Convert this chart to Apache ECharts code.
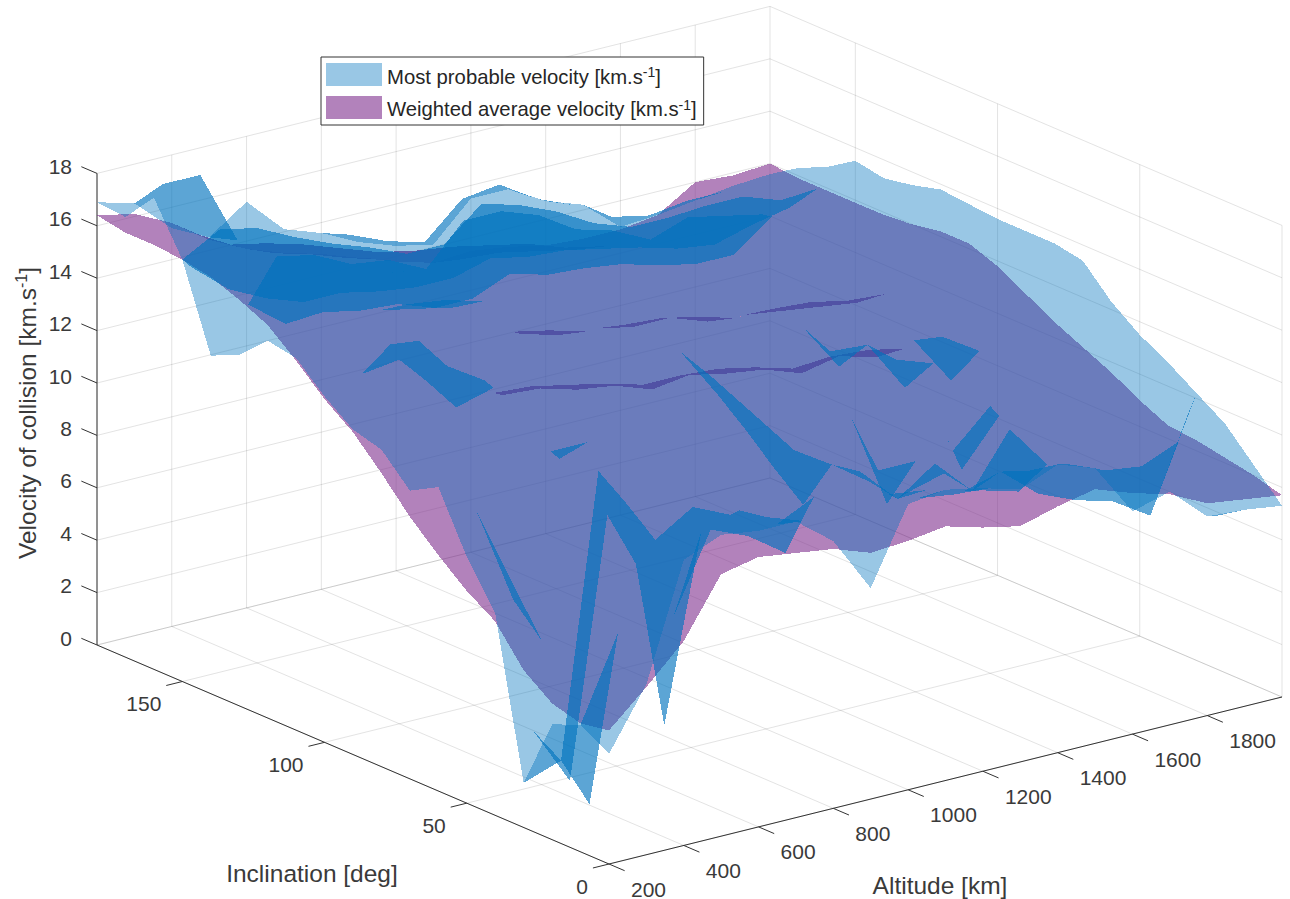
<!DOCTYPE html>
<html><head><meta charset="utf-8">
<style>html,body{margin:0;padding:0;background:#fff}#c{width:1290px;height:899px}
svg path[fill-opacity]{shape-rendering:crispEdges}</style>
<script src="https://cdn.jsdelivr.net/npm/echarts@6/dist/echarts.min.js"></script>
</head><body><div id="c"></div>
<script>
const altitudes=[200,300,400,500,600,700,800,900,1000,1100,1200,1300,1400,1500,1600,1700,1800,1900,2000];
const inclinations=[0,10,20,30,40,50,60,70,80,90,100,110,120,130,140,150,160,170,180];
const altitudeTicks=[200,400,600,800,1000,1200,1400,1600,1800];
const inclinationTicks=[0,50,100,150];
const velocityTicks=[0,2,4,6,8,10,12,14,16,18];
const weightedAverage=[
[5.1,6.4,7.8,10.0,10.3,10.1,9.9,9.4,9.5,9.7,9.3,9.0,9.4,9.7,9.2,8.8,8.1,7.9,7.7],
[4.9,6.2,7.5,9.6,9.9,9.7,9.6,9.1,9.3,9.5,9.1,8.9,9.3,9.6,9.2,8.8,8.3,8.1,8.0],
[5.2,6.4,7.6,9.6,9.9,9.7,9.5,9.1,9.3,9.5,9.1,8.9,9.3,9.6,9.2,8.9,8.4,8.3,8.2],
[6.0,7.1,8.2,10.0,10.2,10.0,9.8,9.4,9.5,9.7,9.4,9.1,9.4,9.7,9.3,9.0,8.6,8.5,8.4],
[7.4,8.3,9.3,10.9,11.0,10.7,10.5,10.0,10.1,10.2,9.8,9.5,9.7,9.8,9.4,9.2,8.8,8.6,8.5],
[8.1,9.0,9.8,11.2,11.3,11.1,10.8,10.4,10.4,10.5,10.1,9.8,10.0,10.1,9.7,9.5,9.3,9.1,9.0],
[9.0,9.8,10.5,11.8,11.8,11.6,11.3,10.9,10.9,11.0,10.6,10.3,10.5,10.6,10.2,10.0,9.8,9.7,9.6],
[10.0,10.7,11.3,12.4,12.4,12.1,11.8,11.4,11.4,11.4,11.1,10.8,10.9,10.9,10.5,10.4,10.3,10.2,10.1],
[11.2,11.8,12.2,13.2,13.1,12.8,12.5,12.1,12.1,12.0,11.7,11.3,11.4,11.3,11.0,10.8,10.8,10.7,10.6],
[12.3,12.8,13.1,13.9,12.3,12.2,11.8,11.6,11.1,11.3,11.0,10.8,10.3,10.6,10.2,11.3,11.4,11.3,11.2],
[13.1,13.5,13.7,14.4,14.2,13.9,13.6,13.2,13.1,13.0,12.7,12.3,12.3,12.2,11.9,11.8,12.0,11.8,11.8],
[14.1,14.4,14.5,15.0,14.8,14.4,13.0,12.6,12.5,12.2,12.2,11.7,11.6,11.4,11.2,11.0,12.4,12.2,12.2],
[15.0,15.2,15.2,15.4,15.2,14.7,14.4,14.0,13.8,13.6,13.3,12.9,12.7,12.5,12.1,12.1,12.4,12.2,12.2],
[15.5,15.6,15.4,15.5,15.2,14.7,14.3,13.9,13.7,13.5,13.1,12.7,12.5,12.2,11.9,11.8,12.2,12.0,12.0],
[15.9,15.9,15.6,15.6,15.2,14.7,14.2,13.8,13.6,13.4,13.0,12.6,12.3,12.0,11.6,11.6,12.1,11.9,11.9],
[16.1,16.0,15.6,15.4,15.0,14.5,14.1,13.7,13.5,13.2,12.8,12.4,12.1,11.8,11.5,11.5,12.1,11.9,11.9],
[16.2,16.0,15.5,15.2,14.8,14.3,13.8,13.5,13.3,13.0,12.7,12.2,11.9,11.5,11.2,11.3,12.0,11.9,11.9],
[16.2,16.0,15.4,14.6,14.0,13.6,13.1,12.7,12.3,12.0,11.9,11.6,11.3,11.1,11.0,11.2,12.0,11.8,11.9],
[16.4,16.1,15.4,14.4,13.7,13.2,12.8,12.3,11.8,11.4,11.5,11.3,11.0,10.9,10.9,11.1,12.0,11.9,12.0]
];
const mostProbable=[
[4.2,6.5,10.9,11.5,11.3,11.3,10.2,8.05,10.9,11.1,10.8,10.4,11.0,10.5,8.5,8.9,7.6,7.5,7.3],
[4.85,8.0,11.2,12.1,11.45,11.0,10.5,10.0,10.6,10.3,10.1,10.0,10.3,10.2,9.6,9.4,10.0,6.8,8.4],
[4.4,1.0,12.1,3.3,10.4,10.8,9.9,10.6,9.6,10.0,9.8,9.4,9.8,8.6,8.0,7.6,6.7,10.2,9.5],
[1.7,2.2,12.9,9.0,6.6,9.6,9.0,8.0,10.5,10.4,9.0,10.0,8.6,10.6,8.9,7.3,7.6,6.8,10.2],
[7.7,2.9,0.6,10.4,11.2,10.9,10.7,10.2,11.1,10.2,9.2,8.4,8.8,7.8,7.4,10.0,6.7,9.6,10.9],
[9.4,8.7,5.5,11.4,11.4,11.2,10.9,10.6,11.6,8.2,10.3,8.8,8.8,8.85,10.2,7.4,10.0,6.7,11.5],
[11.6,10.4,6.6,11.9,11.9,11.7,11.4,11.0,12.1,9.1,9.5,10.5,6.7,10.7,7.3,9.0,7.3,10.9,12.3],
[11.0,15.4,14.5,12.5,10.8,12.2,11.9,11.5,12.6,10.1,11.3,9.4,11.0,11.4,10.9,8.7,8.8,12.2,13.4],
[12.1,15.9,13.0,13.4,12.4,13.0,12.7,12.3,13.0,11.0,11.9,11.5,11.6,11.5,9.5,11.1,10.2,11.9,13.6],
[12.4,15.3,13.5,14.1,14.0,13.6,13.3,12.9,12.9,12.4,12.4,12.1,12.1,10.2,12.0,10.5,8.6,12.3,13.6],
[13.2,13.7,13.9,14.6,14.4,14.1,13.8,13.4,13.3,13.2,12.9,12.5,12.5,12.4,12.1,12.4,12.6,12.7,13.6],
[14.2,14.6,14.7,15.2,15.0,14.6,14.3,13.9,13.8,13.7,13.3,12.9,12.8,12.7,12.5,12.6,12.9,13.0,13.7],
[14.4,14.7,14.6,14.5,14.2,13.9,14.2,14.1,13.9,13.7,13.5,13.1,12.9,13.0,12.3,12.5,12.8,13.1,13.8],
[13.4,16.8,16.5,15.8,15.6,14.9,16.4,16.4,15.9,15.0,14.6,13.9,14.4,14.1,13.8,12.4,12.9,13.0,13.5],
[12.9,14.5,13.4,13.5,13.2,13.1,12.6,12.6,13.2,12.8,12.7,12.5,12.1,11.8,11.8,12.9,12.5,12.9,13.3],
[16.1,16.9,16.6,15.9,15.3,14.8,14.2,14.2,15.4,15.0,14.4,13.6,13.1,13.1,13.2,13.2,12.7,12.8,13.5],
[18.0,15.0,13.8,13.1,12.6,12.6,12.3,12.1,12.1,12.5,12.2,12.1,11.8,11.5,11.1,10.9,11.3,11.6,12.8],
[16.8,17.7,17.7,14.85,13.7,13.9,14.0,13.4,13.0,14.3,14.5,13.6,13.0,12.2,11.9,12.1,12.1,12.2,12.3],
[16.9,16.5,15.2,14.5,15.5,14.1,13.6,12.9,12.4,12.1,13.5,13.5,12.7,12.2,11.0,11.1,11.3,11.5,11.6]
];
const blueName='Most probable velocity [km.s-1]';
const purpleName='Weighted average velocity [km.s-1]';
const FONT='"Liberation Sans", Arial, sans-serif';
const INK='#3a3a3a';

// Orthographic view of the MATLAB-like box, expressed on a page-sized hidden plane.
const view={ox:609,oy:864,ax:673,ay:-167,ix:-512,iy:-219,zy:-26.2,altMin:200,altMax:2000,incMax:180};
function project(alt,inc,v){
  const a=(alt-view.altMin)/(view.altMax-view.altMin), i=inc/view.incMax;
  return [view.ox+view.ax*a+view.ix*i, view.oy+view.ay*a+view.iy*i+view.zy*v];
}
const segs=[];const GRID='rgba(38,38,38,0.13)',AXIS='#333333';
const A0=view.altMin,A1=view.altMax,I1=view.incMax,Z1=18;
altitudeTicks.forEach(t=>{segs.push([t,0,0,t,I1,0,GRID]);segs.push([t,I1,0,t,I1,Z1,GRID]);});
inclinationTicks.forEach(t=>{segs.push([A0,t,0,A1,t,0,GRID]);segs.push([A1,t,0,A1,t,Z1,GRID]);});
velocityTicks.forEach(t=>{segs.push([A0,I1,t,A1,I1,t,GRID]);segs.push([A1,I1,t,A1,0,t,GRID]);});
segs.push([A1,0,0,A1,I1,0,GRID],[A0,I1,0,A1,I1,0,GRID],[A1,I1,0,A1,I1,Z1,GRID]);
segs.push([A0,I1,0,A0,I1,Z1,AXIS],[A0,0,0,A0,I1,0,AXIS],[A0,0,0,A1,0,0,AXIS]);
altitudeTicks.forEach(t=>segs.push([t,0,0,t,-5.5,0,AXIS]));
inclinationTicks.forEach(t=>segs.push([A0,t,0,A0-43,t,0,AXIS]));
velocityTicks.forEach(t=>segs.push([A0,I1,t,A0,I1+5.5,t,AXIS]));

const labels=[];
altitudeTicks.forEach(t=>{const p=project(t,0,0);labels.push({p:[p[0]+22,p[1]+25],t:String(t),al:'left'});});
inclinationTicks.forEach(t=>{const p=project(A0,t,0);labels.push({p:[p[0]-21,p[1]+22],t:String(t),al:'right'});});
velocityTicks.forEach(t=>{const p=project(A0,I1,t);labels.push({p:[72,p[1]-7],t:String(t),al:'right'});});

function triangles(values){
  const out=[];
  for(let k=0;k<inclinations.length-1;k++)for(let j=0;j<altitudes.length-1;j++){
    const q=[[j,k],[j+1,k],[j+1,k+1],[j,k+1]].map(([a,b])=>[altitudes[a],inclinations[b],values[b][a]]);
    out.push([...q[0],...q[1],...q[2]]);
    out.push([...q[0],...q[2],...q[3]]);
  }
  return out;
}
function triRender(color){
  return function(params,api){
    const pts=[0,3,6].map(o=>{const p=project(api.value(o),api.value(o+1),api.value(o+2));return api.coord(p);});
    return {type:'polygon',shape:{points:pts},style:{fill:color,stroke:null},silent:true};
  };
}
const BLUE='rgba(0,114,189,0.4)',PURPLE='rgba(126,47,142,0.6)';
const chart=echarts.init(document.getElementById('c'),null,{renderer:'svg'});
const surfaceBase={type:'custom',coordinateSystem:'cartesian2d',clip:false,silent:true,animation:false,progressive:0,
  encode:{x:0,y:1},tooltip:{show:false}};
chart.setOption({
  animation:false,backgroundColor:'#fff',
  grid:{left:0,right:0,top:0,bottom:0},
  xAxis:{type:'value',min:0,max:1290,show:false},
  yAxis:{type:'value',min:0,max:899,inverse:true,show:false},
  legend:{show:true,left:321,top:57,orient:'vertical',selectedMode:false,
    data:[{name:blueName},{name:purpleName}],
    icon:'rect',itemWidth:56,itemHeight:23,itemGap:9,padding:[6,7,6,5],
    backgroundColor:'#fff',borderColor:'#333',borderWidth:1,
    formatter:n=>n.replace('-1]','{s|-1}]'),
    textStyle:{fontFamily:FONT,fontSize:20.3,color:'#262626',padding:[4,0,0,0],
      rich:{s:{fontFamily:FONT,fontSize:14,color:'#262626',padding:[0,0,9,0]}}}},
  series:[
    {...surfaceBase,name:'frame',z:1,data:segs.map(s=>s.slice(0,6)),renderItem(params,api){
      const s=segs[params.dataIndex];
      const a=api.coord(project(s[0],s[1],s[2])),b=api.coord(project(s[3],s[4],s[5]));
      return {type:'line',shape:{x1:a[0],y1:a[1],x2:b[0],y2:b[1]},style:{stroke:s[6],lineWidth:1,fill:null}};
    }},
    {...surfaceBase,name:purpleName,z:2,itemStyle:{color:PURPLE},data:triangles(weightedAverage),renderItem:triRender(PURPLE)},
    {...surfaceBase,name:blueName,z:3,itemStyle:{color:BLUE},data:triangles(mostProbable),renderItem:triRender(BLUE)},
    {...surfaceBase,name:'labels',z:4,data:labels.map(l=>l.p),renderItem(params,api){
      const l=labels[params.dataIndex],c=api.coord(l.p);
      return {type:'text',x:c[0],y:c[1],style:{text:l.t,font:'21px '+FONT,fill:INK,align:l.al,verticalAlign:'middle'}};
    }},
    {...surfaceBase,name:'titles',z:4,data:[[312,873,0],[940,885,0],[27,413,1]],renderItem(params,api){
      const i=params.dataIndex,c=api.coord([api.value(0),api.value(1)]);
      const txt=['Inclination [deg]','Altitude [km]','Velocity of collision [km.s{s|-1}]'][i];
      return {type:'text',x:c[0],y:c[1],rotation:i===2?Math.PI/2:0,
        style:{text:txt,font:'24.5px '+FONT,fill:INK,align:'center',verticalAlign:'middle',
          rich:{s:{font:'16px '+FONT,fill:INK,padding:[0,0,11,0]}}}};
    }}
  ]
});
</script></body></html>
